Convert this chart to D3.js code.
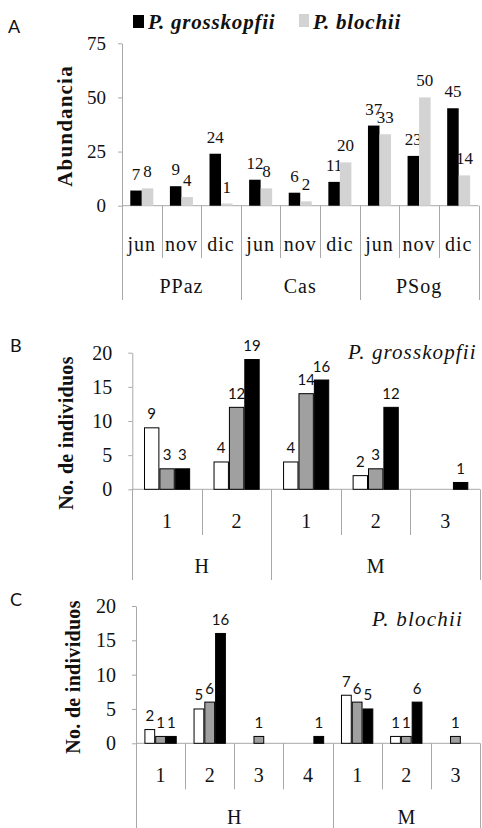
<!DOCTYPE html>
<html>
<head>
<meta charset="utf-8">
<script src="https://cdn.jsdelivr.net/npm/d3@7"></script>
<style>
  body { margin: 0; background: #fff; }
  svg { display: block; }
</style>
</head>
<body>
<div id="chart"></div>
<script>
// panel A data
const groupsA = ['PPaz', 'Cas', 'PSog'];
const monthsA = [['jun', 'nov', 'dic'], ['jun', 'nov', 'dic'], ['jun', 'nov', 'dic']];
const grosskopfiiA = [7, 9, 24, 12, 6, 11, 37, 23, 45];
const blochiiA = [8, 4, 1, 8, 2, 20, 33, 50, 14];
const ticksA = [0, 25, 50, 75];

// panel B data (P. grosskopfii)
const groupsB = ['H', 'M'];
const subsB = [['1', '2'], ['1', '2', '3']];
const whiteB = [9, 4, 4, 2, 0];
const grayB = [3, 12, 14, 3, 0];
const blackB = [3, 19, 16, 12, 1];

// panel C data (P. blochii)
const groupsC = ['H', 'M'];
const subsC = [['1', '2', '3', '4'], ['1', '2', '3']];
const whiteC = [2, 5, 0, 0, 7, 1, 0];
const grayC = [1, 6, 1, 0, 6, 1, 1];
const blackC = [1, 16, 0, 1, 5, 6, 0];

const ticksBC = [0, 5, 10, 15, 20];

const W = 482, H = 828;
const axisColor = '#a8a8a8';
const SERIF = '"Liberation Serif", "Times New Roman", serif';
const SANS = 'Lato, "Open Sans", sans-serif';

const svg = d3.select('#chart')
  .append('svg')
    .attr('width', W)
    .attr('height', H);

// draws one grouped bar panel with a two level category axis
function drawPanel(p) {
  const g = svg.append('g');

  // flatten the group / sub category pairs
  const cats = [];
  p.groups.forEach((grp, gi) => p.subs[gi].forEach((s, si) => cats.push({grp, gi, s, first: si === 0})));

  const x = d3.scaleBand().domain(d3.range(cats.length)).range([p.left, p.right]);
  const xs = d3.scaleBand().domain(d3.range(p.series.length))
      .range([0, x.bandwidth()]).paddingInner(0).paddingOuter(p.pad);
  const y = d3.scaleLinear().domain([0, p.max]).range([p.zero, p.top]);

  // y axis
  const yAxis = g.append('g')
      .attr('transform', `translate(${p.left},0)`)
      .call(d3.axisLeft(y).tickValues(p.ticks).tickSize(4).tickSizeOuter(0).tickPadding(p.tickPad));
  yAxis.select('.domain').attr('stroke', axisColor);
  yAxis.selectAll('.tick line').attr('stroke', axisColor);
  yAxis.selectAll('.tick text')
      .attr('fill', '#111')
      .style('font-family', SERIF)
      .style('font-size', p.tickFont + 'px');

  // zero line
  g.append('line')
      .attr('x1', p.left).attr('x2', p.right)
      .attr('y1', y(0)).attr('y2', y(0))
      .attr('stroke', axisColor);

  // category separators: short inside a group, long between groups
  const bounds = cats.map((c, i) => ({x: x(i), long: c.first}));
  bounds.push({x: p.right, long: true});
  g.selectAll(null).data(bounds).join('line')
      .attr('x1', d => Math.round(d.x) + 0.5).attr('x2', d => Math.round(d.x) + 0.5)
      .attr('y1', y(0))
      .attr('y2', d => d.long ? p.groupLineEnd : p.subLineEnd)
      .attr('stroke', axisColor);

  // sub category labels
  g.selectAll(null).data(cats).join('text')
      .attr('x', (d, i) => x(i) + x.bandwidth() / 2)
      .attr('y', p.subLabelY)
      .attr('text-anchor', 'middle')
      .style('font-family', SERIF)
      .style('font-size', '20px')
      .style('letter-spacing', p.subSpacing + 'px')
      .attr('fill', '#111')
      .text(d => d.s);

  // group labels
  let start = 0;
  p.groups.forEach((grp, gi) => {
    const n = p.subs[gi].length;
    const x0 = x(start), x1 = x(start + n - 1) + x.bandwidth();
    g.append('text')
        .attr('x', (x0 + x1) / 2)
        .attr('y', p.groupLabelY)
        .attr('text-anchor', 'middle')
        .style('font-family', SERIF)
        .style('font-size', '20px')
        .style('letter-spacing', p.subSpacing + 'px')
        .attr('fill', '#111')
        .text(grp);
    start += n;
  });

  // bars and value labels
  p.series.forEach((s, si) => {
    const data = s.values.map((v, i) => ({v, i})).filter(d => d.v > 0);
    g.selectAll(null).data(data).join('rect')
        .attr('x', d => x(d.i) + xs(si) + (p.stroke ? 0.5 : 0))
        .attr('y', d => y(d.v))
        .attr('width', xs.bandwidth() - (p.stroke ? 1 : 0))
        .attr('height', d => y(0) - y(d.v))
        .attr('fill', s.color)
        .attr('stroke', p.stroke ? '#000' : 'none');
    g.selectAll(null).data(data).join('text')
        .attr('x', d => x(d.i) + xs(si) + xs.bandwidth() / 2)
        .attr('y', d => y(d.v) - p.labelOffset)
        .attr('text-anchor', 'middle')
        .style('font-family', p.labelFamily)
        .style('font-size', p.labelFont + 'px')
        .attr('fill', '#111')
        .text(d => d.v);
  });

  // y title
  g.append('text')
      .attr('text-anchor', 'middle')
      .attr('transform', `translate(${p.titleX},${p.titleY}) rotate(-90)`)
      .style('font-family', SERIF)
      .style('font-size', p.titleFont + 'px')
      .style('font-weight', 'bold')
      .style('letter-spacing', p.titleSpacing + 'px')
      .attr('fill', '#111')
      .text(p.yTitle);

  // panel letter
  g.append('text')
      .attr('x', p.letterX).attr('y', p.letterY)
      .style('font-family', SANS)
      .style('font-size', '18px')
      .attr('fill', '#111')
      .text(p.letter);
}

drawPanel({
  groups: groupsA, subs: monthsA,
  series: [{values: grosskopfiiA, color: '#000'}, {values: blochiiA, color: '#d3d3d3'}],
  left: 122, right: 478.5, zero: 205.7, top: 43.3, max: 75, ticks: ticksA,
  pad: 0.72, stroke: false, tickPad: 12, tickFont: 19,
  subLineEnd: 258, groupLineEnd: 300, subLabelY: 251, groupLabelY: 293, subSpacing: 1,
  labelFamily: SERIF, labelFont: 17, labelOffset: 11,
  yTitle: 'Abundancia', titleX: 71.5, titleY: 126, titleFont: 21, titleSpacing: 1.2,
  letter: 'A', letterX: 8, letterY: 33
});

drawPanel({
  groups: groupsB, subs: subsB,
  series: [{values: whiteB, color: '#fff'}, {values: grayB, color: '#a0a0a0'}, {values: blackB, color: '#000'}],
  left: 132.3, right: 480, zero: 489.3, top: 352.7, max: 20, ticks: ticksBC,
  pad: 0.76, stroke: true, tickPad: 16, tickFont: 20,
  subLineEnd: 535, groupLineEnd: 580, subLabelY: 528, groupLabelY: 573, subSpacing: 0,
  labelFamily: SANS, labelFont: 15, labelOffset: 8.5,
  yTitle: 'No. de individuos', titleX: 73, titleY: 433, titleFont: 20, titleSpacing: 0.3,
  letter: 'B', letterX: 10, letterY: 352
});

drawPanel({
  groups: groupsC, subs: subsC,
  series: [{values: whiteC, color: '#fff'}, {values: grayC, color: '#a0a0a0'}, {values: blackC, color: '#000'}],
  left: 136, right: 480, zero: 743.3, top: 606, max: 20, ticks: ticksBC,
  pad: 0.78, stroke: true, tickPad: 16, tickFont: 20,
  subLineEnd: 789.3, groupLineEnd: 828, subLabelY: 781.7, groupLabelY: 824, subSpacing: 0,
  labelFamily: SANS, labelFont: 15, labelOffset: 8.5,
  yTitle: 'No. de individuos', titleX: 80, titleY: 677, titleFont: 20, titleSpacing: 0.3,
  letter: 'C', letterX: 10, letterY: 606
});

// legend of panel A
const legendA = [
  {name: 'P. grosskopfii', color: '#000', x: 133, y: 15, w: 11, h: 13},
  {name: 'P. blochii', color: '#d3d3d3', x: 299, y: 14, w: 10, h: 13}
];
const legend = svg.append('g');
legend.selectAll(null).data(legendA).join('rect')
    .attr('x', d => d.x).attr('y', d => d.y)
    .attr('width', d => d.w).attr('height', d => d.h)
    .attr('fill', d => d.color);
legend.selectAll(null).data(legendA).join('text')
    .attr('x', d => d.x + d.w + 4)
    .attr('y', 29)
    .style('font-family', SERIF)
    .style('font-size', '21px')
    .style('font-weight', 'bold')
    .style('font-style', 'italic')
    .style('letter-spacing', '0.8px')
    .attr('fill', '#111')
    .text(d => d.name);

// species titles of panels B and C
const speciesTitles = [
  {name: 'P. grosskopfii', x: 348, y: 359, spacing: 1.1},
  {name: 'P. blochii', x: 372, y: 626, spacing: 1.2}
];
svg.selectAll(null).data(speciesTitles).join('text')
    .attr('x', d => d.x).attr('y', d => d.y)
    .style('font-family', SERIF)
    .style('font-size', '21px')
    .style('font-style', 'italic')
    .style('letter-spacing', d => d.spacing + 'px')
    .attr('fill', '#111')
    .text(d => d.name);
</script>
</body>
</html>
